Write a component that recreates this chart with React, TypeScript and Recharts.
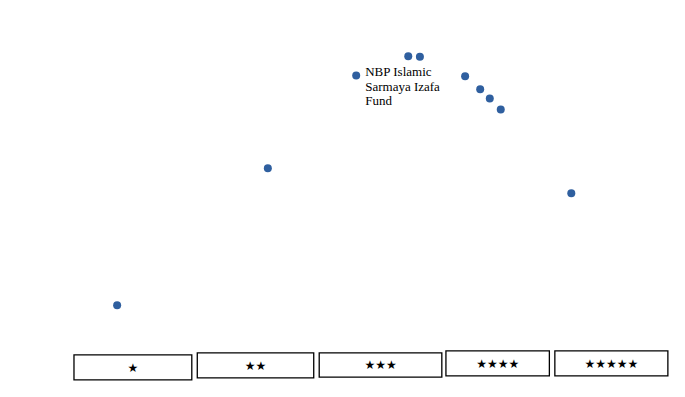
import { ScatterChart, Scatter, XAxis, YAxis, ReferenceArea, LabelList } from 'recharts'

// fund positions (arbitrary 0-100 units)
const fundX = [17.1, 39.1, 52.0, 59.6, 61.3, 67.9, 70.1, 71.5, 73.1, 83.4]
const fundY = [23.1, 57.6, 81.0, 85.8, 85.7, 80.8, 77.5, 75.2, 72.4, 51.3]
const fundLabels = ['', '', 'NBP Islamic\nSarmaya Izafa\nFund', '', '', '', '', '', '', '']

// star rating bands along the bottom
const ratingLabels = ['★', '★★', '★★★', '★★★★', '★★★★★']
const ratingX1 = [10.8, 28.8, 46.6, 65.1, 81.0]
const ratingX2 = [28.0, 45.8, 64.5, 80.2, 97.5]
const ratingY1 = [4.3, 4.8, 5.0, 5.3, 5.3]
const ratingY2 = [10.6, 11.1, 11.1, 11.6, 11.6]

const DOT = '#2f5f9f'
const SERIF = '"Liberation Serif", "Times New Roman", serif'

const data = fundX.map((x, i) => ({ x, y: fundY[i], label: fundLabels[i] }))

function Dot(props: any) {
  return <circle cx={props.cx} cy={props.cy} r={4} fill={DOT} />
}

function FundLabel(props: any) {
  const { x, y, width, height, value } = props
  if (!value) return null
  const cx = x + width / 2
  const cy = y + height / 2
  const lines = String(value).split('\n')
  return (
    <text x={cx + 9} y={cy + 1} fontSize={13} fontFamily={SERIF} fill="#000">
      {lines.map((l, i) => (
        <tspan key={i} x={cx + 9} dy={i === 0 ? 0 : 14.5}>{l}</tspan>
      ))}
    </text>
  )
}

export default function App() {
  return (
    <div style={{ position: 'absolute', left: 0, top: 0, background: '#fff' }}>
      <ScatterChart width={685} height={397} margin={{ top: 0, right: 0, bottom: 0, left: 0 }}>
        <XAxis type="number" dataKey="x" domain={[0, 100]} hide />
        <YAxis type="number" dataKey="y" domain={[0, 100]} hide />
        {ratingLabels.map((s, i) => (
          <ReferenceArea
            key={i}
            x1={ratingX1[i]}
            x2={ratingX2[i]}
            y1={ratingY1[i]}
            y2={ratingY2[i]}
            fill="#fff"
            fillOpacity={1}
            stroke="#000"
            strokeWidth={1.3}
            ifOverflow="visible"
            label={{ value: s, position: 'center', fill: '#000', fontSize: 12, fontFamily: '"DejaVu Sans", sans-serif' }}
          />
        ))}
        <Scatter data={data} shape={Dot} isAnimationActive={false}>
          <LabelList dataKey="label" content={FundLabel} />
        </Scatter>
      </ScatterChart>
    </div>
  )
}
